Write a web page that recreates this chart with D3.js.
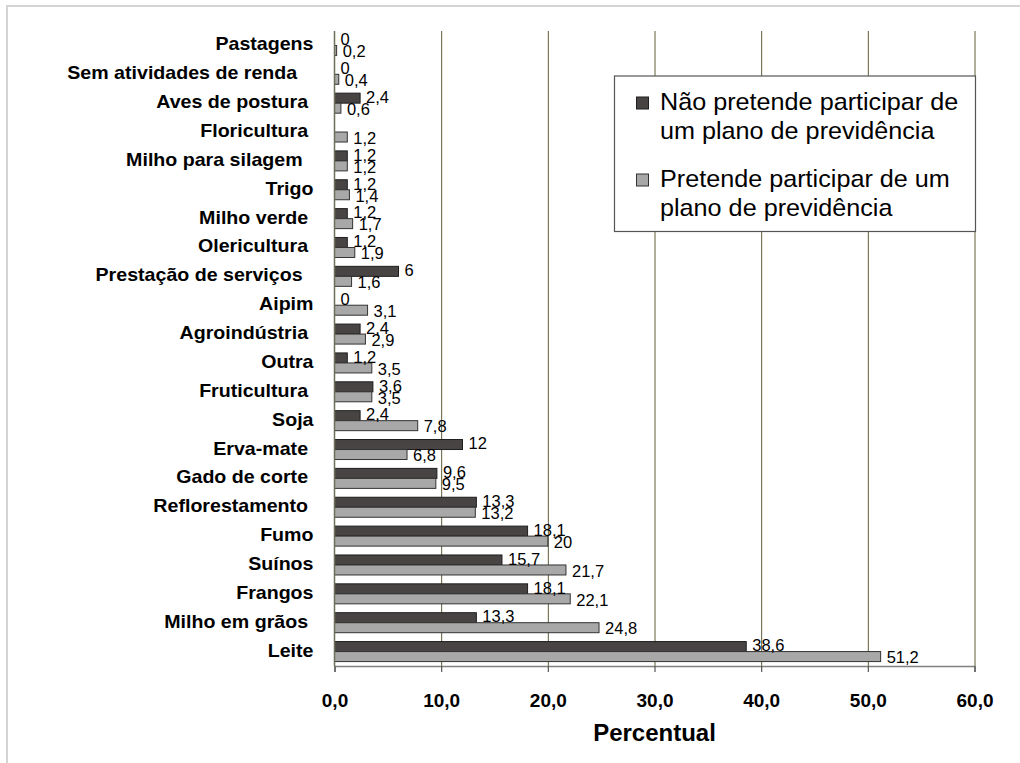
<!DOCTYPE html>
<html>
<head>
<meta charset="utf-8">
<script src="https://cdn.jsdelivr.net/npm/d3@7"></script>
<style>
    body { margin: 0; background: #fff; }
    text { font-family: "Liberation Sans", Arial, sans-serif; white-space: pre; }
</style>
</head>
<body>
<div id="chart-container"></div>
<script>
// Categories (top to bottom), trailing spaces kept as in the original labels
const categories = [
    "Pastagens", "Sem atividades de renda   ", "Aves de postura ", "Floricultura ",
    "Milho para silagem  ", "Trigo", "Milho verde ", "Olericultura ",
    "Prestação de serviços  ", "Aipim", "Agroindústria ", "Outra",
    "Fruticultura ", "Soja", "Erva-mate ", "Gado de corte ", "Reflorestamento ",
    "Fumo", "Suínos", "Frangos", "Milho em grãos ", "Leite"
];

const seriesNames = [
    "Não pretende participar de um plano de previdência",
    "Pretende participar de um plano de previdência"
];

const naoPretende = [0, 0, 2.4, null, 1.2, 1.2, 1.2, 1.2, 6, 0, 2.4, 1.2,
    3.6, 2.4, 12, 9.6, 13.3, 18.1, 15.7, 18.1, 13.3, 38.6];
const pretende = [0.2, 0.4, 0.6, 1.2, 1.2, 1.4, 1.7, 1.9, 1.6, 3.1, 2.9, 3.5,
    3.5, 7.8, 6.8, 9.5, 13.2, 20, 21.7, 22.1, 24.8, 51.2];

const xTicks = [0, 10, 20, 30, 40, 50, 60];

const legendLines = [
    ["Não pretende participar de", "um plano de previdência"],
    ["Pretende participar de um", "plano de previdência"]
];

const width = 1020, height = 763;
const margin = { top: 31, right: 45.5, bottom: 97, left: 334.5 };
const colors = ["#484444", "#a8a8a8"];
const strokes = ["#1e1e1e", "#333333"];

const rows = categories.map((c, i) => ({ cat: c, values: [naoPretende[i], pretende[i]] }));

const svg = d3.select("#chart-container")
    .append("svg")
    .attr("width", width)
    .attr("height", height);

// outer frame
svg.append("rect")
    .attr("x", 7).attr("y", 6)
    .attr("width", width + 10).attr("height", height + 10)
    .attr("fill", "none")
    .attr("stroke", "#d4d4d4")
    .attr("stroke-width", 2);

const x = d3.scaleLinear()
    .domain([0, 60])
    .range([margin.left, width - margin.right]);

const y = d3.scaleBand()
    .domain(categories)
    .range([margin.top, height - margin.bottom]);

const y1 = d3.scaleBand()
    .domain([0, 1])
    .range([0, y.bandwidth()])
    .paddingOuter(0.443);

const plotBottom = height - margin.bottom;

// vertical gridlines
svg.append("g")
    .selectAll("line")
    .data(xTicks.filter(t => t > 0))
    .enter()
    .append("line")
    .attr("x1", d => x(d) + 0.5).attr("x2", d => x(d) + 0.5)
    .attr("y1", margin.top).attr("y2", plotBottom)
    .attr("stroke", "#5e5e38")
    .attr("stroke-width", 1);

// bars
const groups = svg.append("g")
    .selectAll("g")
    .data(rows)
    .enter()
    .append("g")
    .attr("transform", d => `translate(0, ${y(d.cat)})`);

groups.selectAll("rect")
    .data(d => d.values.map((v, k) => ({ v, k })).filter(e => e.v !== null && e.v > 0))
    .enter()
    .append("rect")
    .attr("x", x(0))
    .attr("y", d => y1(d.k))
    .attr("width", d => x(d.v) - x(0))
    .attr("height", y1.bandwidth())
    .attr("fill", d => colors[d.k])
    .attr("stroke", d => strokes[d.k])
    .attr("stroke-width", 1);

// value labels
groups.selectAll("text")
    .data(d => d.values.map((v, k) => ({ v, k })).filter(e => e.v !== null))
    .enter()
    .append("text")
    .attr("x", d => x(d.v) + 6)
    .attr("y", d => y1(d.k) + y1.bandwidth() / 2 + (d.k === 0 ? -1 : 1))
    .attr("dy", "0.35em")
    .attr("font-size", "16.5px")
    .attr("fill", "#000")
    .text(d => String(d.v).replace(".", ","));

// y axis line
svg.append("line")
    .attr("x1", x(0)).attr("x2", x(0))
    .attr("y1", margin.top).attr("y2", plotBottom)
    .attr("stroke", "#6e6e5a")
    .attr("stroke-width", 1.5);

// category labels
svg.append("g")
    .selectAll("text")
    .data(categories)
    .enter()
    .append("text")
    .attr("transform", d => `translate(${x(0) - 21}, ${y(d) + y.bandwidth() / 2 + 5}) scale(1.09, 1)`)
    .attr("text-anchor", "end")
    .attr("font-size", "18px")
    .attr("font-weight", "bold")
    .text(d => d);

// x axis
const xAxis = svg.append("g")
    .attr("transform", `translate(0, ${plotBottom})`)
    .call(d3.axisBottom(x)
        .tickValues(xTicks)
        .tickSize(6)
        .tickPadding(22)
        .tickFormat(d => d3.format(".1f")(d).replace(".", ",")));

xAxis.select(".domain").attr("stroke", "#808080").attr("stroke-width", 1.5);
xAxis.selectAll(".tick line").attr("stroke", "#555").attr("stroke-width", 1.2);
xAxis.selectAll(".tick text")
    .attr("font-family", "Liberation Sans, Arial, sans-serif")
    .attr("font-size", "19px")
    .attr("font-weight", "bold")
    .attr("fill", "#000");

// axis title
svg.append("text")
    .attr("x", (x(0) + x(60)) / 2)
    .attr("y", 741)
    .attr("text-anchor", "middle")
    .attr("font-size", "24px")
    .attr("font-weight", "bold")
    .text("Percentual");

// legend
const legend = svg.append("g").attr("transform", "translate(614.5, 76)");

legend.append("rect")
    .attr("width", 361)
    .attr("height", 155.5)
    .attr("fill", "#fff")
    .attr("stroke", "#555")
    .attr("stroke-width", 1.2);

const items = legend.selectAll(".item")
    .data(seriesNames)
    .enter()
    .append("g")
    .attr("class", "item")
    .attr("transform", (d, i) => `translate(0, ${i * 77})`);

items.append("rect")
    .attr("x", 22).attr("y", 21)
    .attr("width", 12).attr("height", 12)
    .attr("fill", (d, i) => colors[i])
    .attr("stroke", (d, i) => strokes[i])
    .attr("stroke-width", 1);

items.each(function (d, i) {
    d3.select(this).selectAll("text")
        .data(legendLines[i])
        .enter()
        .append("text")
        .attr("transform", (t, j) => `translate(45.5, ${33.5 + j * 29}) scale(1.05, 1)`)
        .attr("font-size", "24px")
        .attr("fill", "#000")
        .text(t => t);
});
</script>
</body>
</html>
